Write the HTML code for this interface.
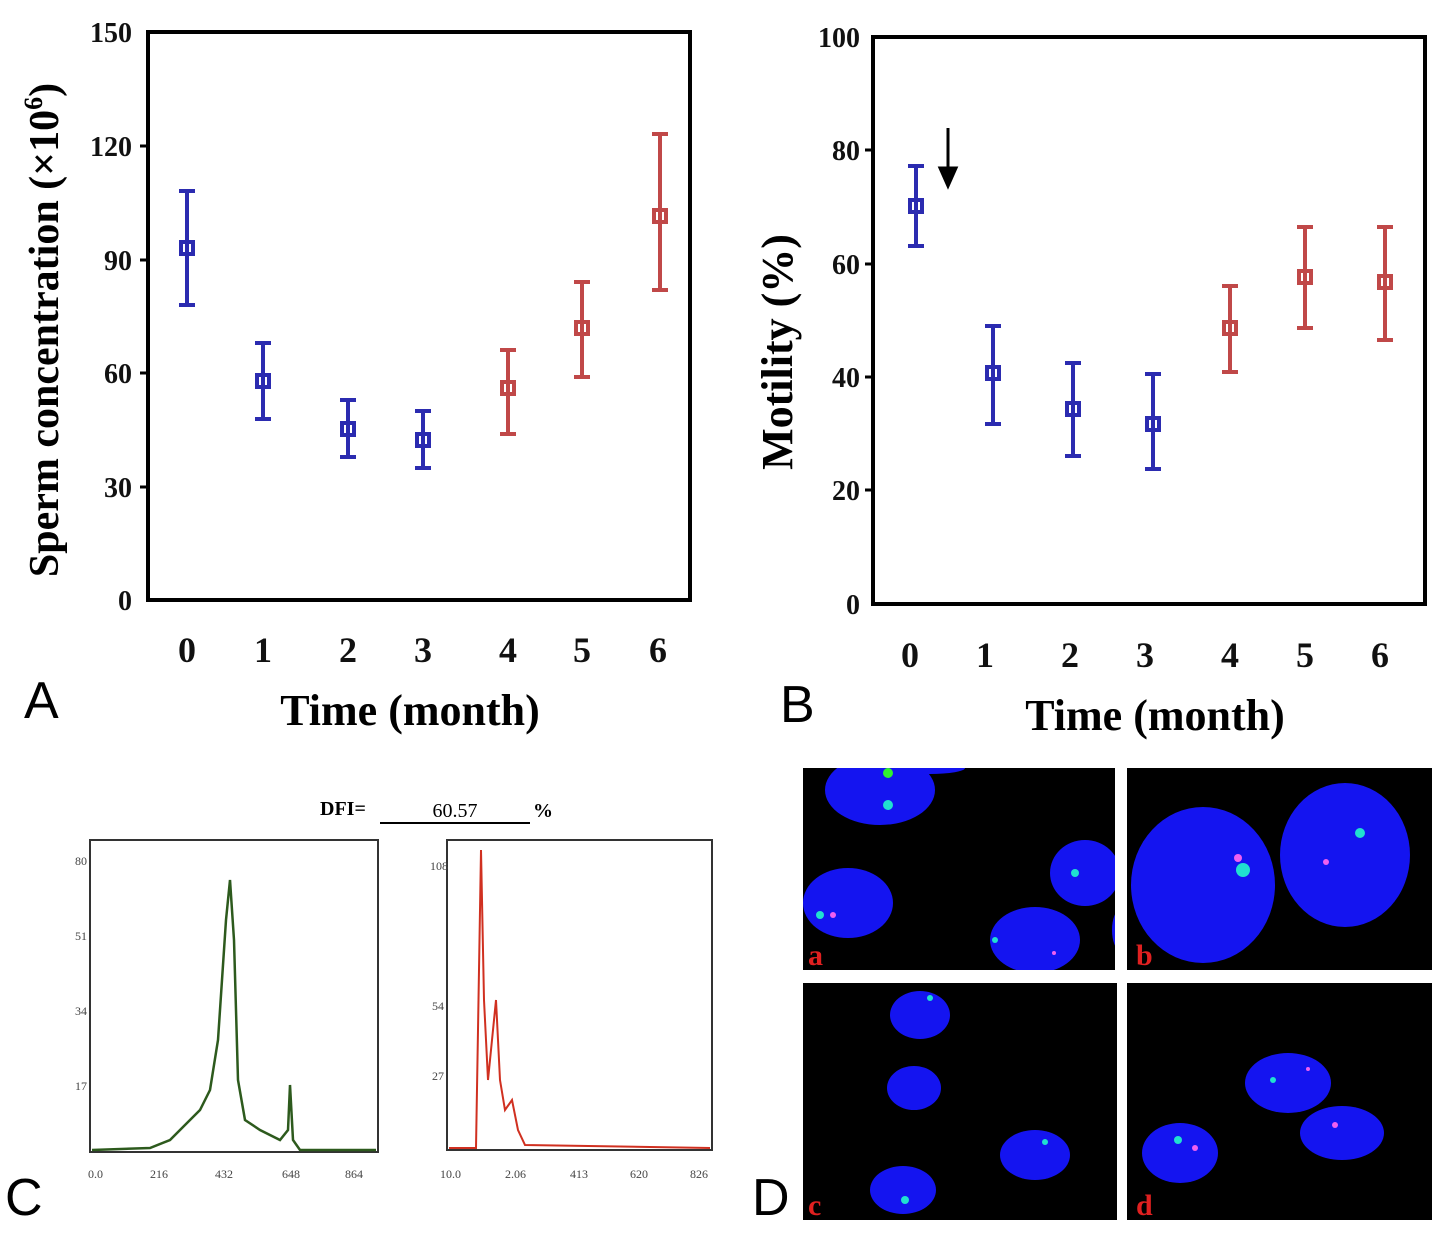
<!DOCTYPE html>
<html><head><meta charset="utf-8"><style>
body{margin:0;background:#fff;}
svg text{font-family:"Liberation Serif",serif;}
</style></head><body>
<svg width="1432" height="1232" xmlns="http://www.w3.org/2000/svg">
<defs>
<clipPath id="ca"><rect x="803" y="768" width="312" height="202"/></clipPath>
<clipPath id="cb"><rect x="1127" y="768" width="305" height="202"/></clipPath>
<clipPath id="cc"><rect x="803" y="983" width="314" height="237"/></clipPath>
<clipPath id="cd"><rect x="1127" y="983" width="305" height="237"/></clipPath>
</defs>
<rect width="1432" height="1232" fill="#fff"/>
<!-- Panel A -->
<rect x="148" y="32" width="542" height="568" fill="none" stroke="#000" stroke-width="4"/>
<g font-size="28" font-weight="bold" text-anchor="end" fill="#111">
<text x="132" y="42">150</text><text x="132" y="156">120</text><text x="132" y="270">90</text>
<text x="132" y="383">60</text><text x="132" y="497">30</text><text x="132" y="610">0</text>
</g>
<g stroke="#000" stroke-width="3"><line x1="140" y1="146" x2="148" y2="146"/><line x1="140" y1="260" x2="148" y2="260"/><line x1="140" y1="373" x2="148" y2="373"/><line x1="140" y1="487" x2="148" y2="487"/></g>
<g font-size="36" font-weight="bold" text-anchor="middle" fill="#111">
<text x="187" y="662">0</text><text x="263" y="662">1</text><text x="348" y="662">2</text><text x="423" y="662">3</text><text x="508" y="662">4</text><text x="582" y="662">5</text><text x="658" y="662">6</text>
</g>
<text x="410" y="725" font-size="44" font-weight="bold" text-anchor="middle">Time (month)</text>
<text transform="translate(58,330) rotate(-90)" font-size="42" font-weight="bold" text-anchor="middle">Sperm concentration (×10<tspan font-size="26" dy="-16">6</tspan><tspan dy="16">)</tspan></text>
<text x="24" y="718" font-size="52" style="font-family:'Liberation Sans',sans-serif">A</text>
<g stroke-width="4" fill="none">
<g stroke="#2b2bb0">
<path d="M187 191V305M179 191h16M179 305h16"/><rect x="181" y="242" width="12" height="12"/>
<path d="M263 343V419M255 343h16M255 419h16"/><rect x="257" y="375" width="12" height="12"/>
<path d="M348 400V457M340 400h16M340 457h16"/><rect x="342" y="423" width="12" height="12"/>
<path d="M423 411V468M415 411h16M415 468h16"/><rect x="417" y="434" width="12" height="12"/>
</g>
<g stroke="#c04848">
<path d="M508 350V434M500 350h16M500 434h16"/><rect x="502" y="382" width="12" height="12"/>
<path d="M582 282V377M574 282h16M574 377h16"/><rect x="576" y="322" width="12" height="12"/>
<path d="M660 134V290M652 134h16M652 290h16"/><rect x="654" y="210" width="12" height="12"/>
</g></g>
<!-- Panel B -->
<rect x="873" y="37" width="552" height="567" fill="none" stroke="#000" stroke-width="4"/>
<g font-size="28" font-weight="bold" text-anchor="end" fill="#111">
<text x="860" y="47">100</text><text x="860" y="160">80</text><text x="860" y="274">60</text>
<text x="860" y="387">40</text><text x="860" y="500">20</text><text x="860" y="614">0</text>
</g>
<g stroke="#000" stroke-width="3"><line x1="865" y1="150" x2="873" y2="150"/><line x1="865" y1="264" x2="873" y2="264"/><line x1="865" y1="377" x2="873" y2="377"/><line x1="865" y1="490" x2="873" y2="490"/></g>
<g font-size="36" font-weight="bold" text-anchor="middle" fill="#111">
<text x="910" y="667">0</text><text x="985" y="667">1</text><text x="1070" y="667">2</text><text x="1145" y="667">3</text><text x="1230" y="667">4</text><text x="1305" y="667">5</text><text x="1380" y="667">6</text>
</g>
<text x="1155" y="730" font-size="44" font-weight="bold" text-anchor="middle">Time (month)</text>
<text transform="translate(792,352) rotate(-90)" font-size="44" font-weight="bold" text-anchor="middle">Motility (%)</text>
<text x="780" y="722" font-size="52" style="font-family:'Liberation Sans',sans-serif">B</text>
<path d="M948 128V180M940 168L948 186L956 168Z" stroke="#000" stroke-width="3" fill="#000"/>
<g stroke-width="4" fill="none">
<g stroke="#2b2bb0">
<path d="M916 166V246M908 166h16M908 246h16"/><rect x="910" y="200" width="12" height="12"/>
<path d="M993 326V424M985 326h16M985 424h16"/><rect x="987" y="367" width="12" height="12"/>
<path d="M1073 363V456M1065 363h16M1065 456h16"/><rect x="1067" y="403" width="12" height="12"/>
<path d="M1153 374V469M1145 374h16M1145 469h16"/><rect x="1147" y="418" width="12" height="12"/>
</g>
<g stroke="#c04848">
<path d="M1230 286V372M1222 286h16M1222 372h16"/><rect x="1224" y="322" width="12" height="12"/>
<path d="M1305 227V328M1297 227h16M1297 328h16"/><rect x="1299" y="271" width="12" height="12"/>
<path d="M1385 227V340M1377 227h16M1377 340h16"/><rect x="1379" y="276" width="12" height="12"/>
</g></g>
<!-- Panel C -->
<text x="320" y="815" font-size="20" font-weight="bold">DFI=</text>
<line x1="380" y1="823" x2="530" y2="823" stroke="#000" stroke-width="2"/>
<text x="455" y="817" font-size="20" text-anchor="middle">60.57</text>
<text x="533" y="817" font-size="20" font-weight="bold">%</text>
<rect x="90" y="840" width="288" height="312" fill="none" stroke="#333" stroke-width="2"/>
<rect x="447" y="840" width="265" height="310" fill="none" stroke="#333" stroke-width="2"/>
<g font-size="12" fill="#444">
<text x="88" y="1178">0.0</text><text x="150" y="1178">216</text><text x="215" y="1178">432</text><text x="282" y="1178">648</text><text x="345" y="1178">864</text>
<text x="440" y="1178">10.0</text><text x="505" y="1178">2.06</text><text x="570" y="1178">413</text><text x="630" y="1178">620</text><text x="690" y="1178">826</text>
<text x="75" y="865">80</text><text x="75" y="940">51</text><text x="75" y="1015">34</text><text x="75" y="1090">17</text>
<text x="430" y="870">108</text><text x="432" y="1010">54</text><text x="432" y="1080">27</text>
</g>
<path d="M92 1150L150 1148L170 1140L185 1125L200 1110L210 1090L218 1040L222 980L226 920L230 880L234 940L238 1080L245 1120L260 1130L280 1140L288 1130L290 1085L293 1140L300 1150L376 1150" stroke="#2d5a1d" stroke-width="2.5" fill="none"/>
<path d="M449 1148L476 1148L478 1030L481 850L484 1000L488 1080L492 1040L496 1000L500 1080L505 1110L512 1100L518 1130L525 1145L710 1148" stroke="#d03020" stroke-width="2" fill="none"/>
<text x="5" y="1215" font-size="52" style="font-family:'Liberation Sans',sans-serif">C</text>
<!-- Panel D -->
<text x="752" y="1215" font-size="52" style="font-family:'Liberation Sans',sans-serif">D</text>
<rect x="803" y="768" width="312" height="202" fill="#000"/>
<rect x="1127" y="768" width="305" height="202" fill="#000"/>
<rect x="803" y="983" width="314" height="237" fill="#000"/>
<rect x="1127" y="983" width="305" height="237" fill="#000"/>
<g fill="#1414f0" clip-path="url(#ca)">
<ellipse cx="880" cy="790" rx="55" ry="35"/><ellipse cx="930" cy="768" rx="35" ry="6"/>
<ellipse cx="848" cy="903" rx="45" ry="35"/><ellipse cx="1085" cy="873" rx="35" ry="33"/>
<ellipse cx="1035" cy="940" rx="45" ry="33"/><ellipse cx="1120" cy="930" rx="8" ry="20"/>
</g>
<g fill="#1414f0" clip-path="url(#cb)">
<ellipse cx="1203" cy="885" rx="72" ry="78"/><ellipse cx="1345" cy="855" rx="65" ry="72"/>
</g>
<g fill="#1414f0" clip-path="url(#cc)">
<ellipse cx="920" cy="1015" rx="30" ry="24"/><ellipse cx="914" cy="1088" rx="27" ry="22"/>
<ellipse cx="903" cy="1190" rx="33" ry="24"/><ellipse cx="1035" cy="1155" rx="35" ry="25"/>
</g>
<g fill="#1414f0" clip-path="url(#cd)">
<ellipse cx="1288" cy="1083" rx="43" ry="30"/><ellipse cx="1342" cy="1133" rx="42" ry="27"/>
<ellipse cx="1180" cy="1153" rx="38" ry="30"/>
</g>
<g fill="#20e0d0"><circle cx="888" cy="805" r="5"/><circle cx="888" cy="773" r="5" fill="#30f030"/><circle cx="820" cy="915" r="4"/><circle cx="1075" cy="873" r="4"/><circle cx="995" cy="940" r="3"/><circle cx="1243" cy="870" r="7"/><circle cx="1360" cy="833" r="5"/><circle cx="930" cy="998" r="3"/><circle cx="905" cy="1200" r="4"/><circle cx="1178" cy="1140" r="4"/><circle cx="1273" cy="1080" r="3"/><circle cx="1045" cy="1142" r="3"/></g>
<g fill="#f060f0"><circle cx="833" cy="915" r="3"/><circle cx="1238" cy="858" r="4"/><circle cx="1326" cy="862" r="3"/><circle cx="1054" cy="953" r="2"/><circle cx="1195" cy="1148" r="3"/><circle cx="1335" cy="1125" r="3"/><circle cx="1308" cy="1069" r="2"/></g>
<g font-size="30" font-weight="bold" fill="#e02020">
<text x="808" y="965">a</text><text x="1136" y="965">b</text><text x="808" y="1215">c</text><text x="1136" y="1215">d</text>
</g>
</svg>
</body></html>
